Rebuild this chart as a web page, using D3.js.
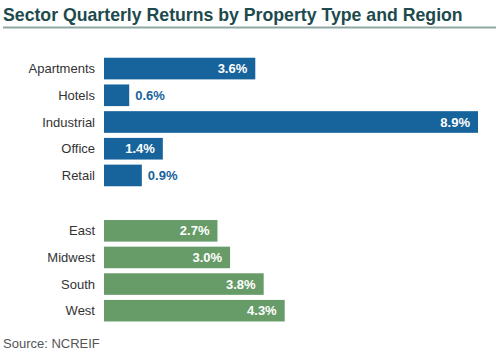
<!DOCTYPE html>
<html><head><meta charset="utf-8">
<script src="https://cdn.jsdelivr.net/npm/d3@7/dist/d3.min.js"></script>
<style>body{margin:0;background:#fff;}svg{display:block;font-family:"Liberation Sans",Arial,sans-serif;}</style>
</head><body><svg id="c" width="500" height="353"></svg>
<script>
const propertyTypes = ["Apartments","Hotels","Industrial","Office","Retail"];
const propertyValues = [3.6, 0.6, 8.9, 1.4, 0.9];
const regions = ["East","Midwest","South","West"];
const regionValues = [2.7, 3.0, 3.8, 4.3];
const title = "Sector Quarterly Returns by Property Type and Region";
const source = "Source: NCREIF";

const svg = d3.select("#c");
svg.append("text").attr("x",3).attr("y",21).attr("font-size",17.7).attr("font-weight","bold")
  .attr("fill","#1d4a4c").text(title);
svg.append("line").attr("x1",3).attr("x2",496).attr("y1",27.5).attr("y2",27.5)
  .attr("stroke","#8ea8a4").attr("stroke-width",2);

const x = d3.scaleLinear().domain([0,8.9]).range([104,478]);

function group(names, values, y0, y1, color){
  const y = d3.scaleBand().domain(names).range([y0,y1]).paddingInner(0.19).paddingOuter(0.095);
  const g = svg.append("g");
  g.selectAll("rect").data(names).join("rect")
    .attr("x",x(0)).attr("y",d=>y(d)).attr("height",y.bandwidth())
    .attr("width",(d,i)=>x(values[i])-x(0)).attr("fill",color);
  g.selectAll("text.cat").data(names).join("text").attr("class","cat")
    .attr("x",95).attr("y",d=>y(d)+y.bandwidth()/2).attr("dy","0.35em")
    .attr("text-anchor","end").attr("font-size",13).attr("fill","#333").text(d=>d);
  g.selectAll("text.val").data(names).join("text").attr("class","val")
    .attr("y",d=>y(d)+y.bandwidth()/2).attr("dy","0.35em")
    .attr("font-size",13).attr("font-weight","bold")
    .each(function(d,i){
      const v = values[i], inside = v >= 1;
      d3.select(this)
        .attr("x", inside ? x(v)-8 : x(v)+6)
        .attr("text-anchor", inside ? "end" : "start")
        .attr("fill", inside ? "#fff" : color)
        .text(v.toFixed(1)+"%");
    });
}
group(propertyTypes, propertyValues, 55.2, 188.8, "#17639b");
group(regions, regionValues, 217.5, 324, "#679b68");

svg.append("text").attr("x",3).attr("y",348).attr("font-size",13).attr("fill","#555").text(source);
</script></body></html>
